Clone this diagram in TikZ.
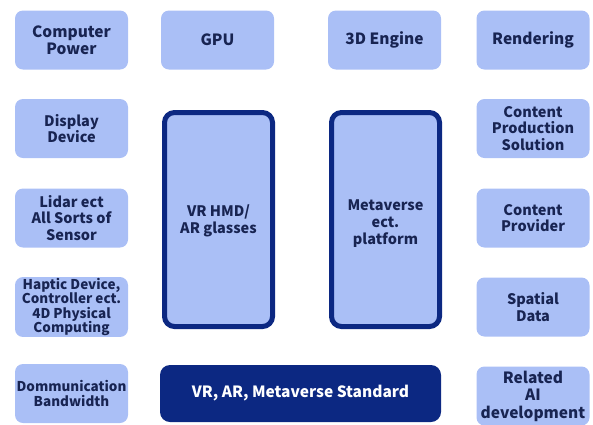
\documentclass[tikz,border=0pt]{standalone}
\usepackage{fontspec}
\setmainfont{Noto Sans CJK KR}
\definecolor{boxfill}{RGB}{170,191,246}
\definecolor{navy}{RGB}{12,40,130}
\definecolor{inktext}{RGB}{24,36,82}
\newcommand{\lowered}[2]{\raisebox{-#1}[0pt][0pt]{\begin{tabular}{@{}c@{}}#2\end{tabular}}}
\tikzset{
  item/.style={rounded corners=8pt, fill=boxfill, minimum width=113pt, minimum height=59pt,
    align=center, text=inktext, font=\fontsize{14.5}{16.5}\selectfont\bfseries, inner sep=1pt},
  toprow/.style={font=\fontsize{15.5}{17.5}\selectfont\bfseries},
  smalltext/.style={font=\fontsize{13.5}{14.5}\selectfont\bfseries},
  device/.style={rounded corners=10pt, draw=navy, line width=5pt, fill=boxfill,
    minimum width=108pt, minimum height=214pt, align=center, text=inktext,
    font=\fontsize{14.5}{17}\selectfont\bfseries},
  standard/.style={rounded corners=10pt, fill=navy, minimum width=281pt, minimum height=57pt,
    text=white, font=\fontsize{15.5}{17}\selectfont\bfseries}
}
\begin{document}
\begin{tikzpicture}[x=1pt,y=-1pt]
      \useasboundingbox (0,0) rectangle (593,424);
      \node[item,toprow] (power) at (71.5,40) {Computer\\Power};
      \node[item,toprow] (gpu) at (217.5,40) {GPU};
      \node[item,toprow] (engine) at (384.5,40) {3D Engine};
      \node[item,toprow] (render) at (533,40) {Rendering};
      \node[item] (display) at (71.5,128.5) {Display\\Device};
      \node[item] (sensor) at (71.5,218) {Lidar ect\\All Sorts of\\Sensor};
      \node[item,smalltext] (haptic) at (71.5,307) {Haptic Device,\\Controller ect.\\4D Physical\\Computing};
      \node[item,smalltext] (comm) at (71.5,393.5) {Dommunication\\Bandwidth};
      \node[item] (production) at (533,128.5) {Content\\Production\\Solution};
      \node[item] (provider) at (533,218) {Content\\Provider};
      \node[item] (spatial) at (533,307) {Spatial\\Data};
      \node[item,toprow] (ai) at (533,396) {Related\\AI\\development};
      \node[device] (hmd) at (218.5,219.5) {\lowered{6pt}{VR HMD/\\AR glasses}};
      \node[device] (platform) at (385.5,219.5) {\lowered{8.5pt}{Metaverse\\ect.\\platform}};
      \node[standard] (standard) at (300.5,393.5) {VR, AR, Metaverse Standard};
    \end{tikzpicture}
\end{document}
